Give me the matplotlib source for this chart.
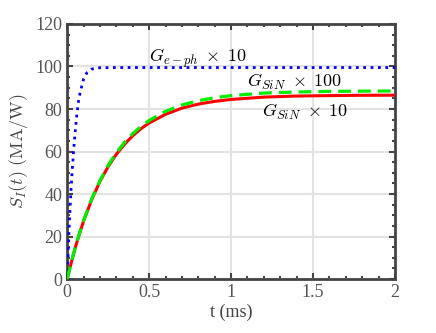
import numpy as np
import matplotlib
matplotlib.use("Agg")
import matplotlib.pyplot as plt
import matplotlib.ticker as ticker

# values (t in ms, S_I in MA/W)
t_eph = [0, 0.005, 0.01, 0.015, 0.02, 0.025, 0.03, 0.04, 0.05, 0.06, 0.07, 0.08, 0.1, 0.12, 0.15, 0.2, 0.3, 2.0]
s_eph = [0, 10, 20, 29, 37, 44, 50, 61, 70, 78, 84, 88, 94, 97, 98.8, 99.4, 99.5, 99.5]

t_sin = [0, 0.025, 0.05, 0.075, 0.1, 0.15, 0.2, 0.25, 0.3, 0.35, 0.4, 0.45, 0.5, 0.6, 0.7, 0.8, 0.9, 1.0, 1.2, 1.4, 1.6, 1.8, 2.0]
s_sin10 = [0, 7.7, 14.9, 21.3, 27.2, 37.4, 45.9, 52.9, 58.7, 63.4, 67.4, 70.7, 73.4, 77.5, 80.4, 82.3, 83.6, 84.5, 85.6, 86.1, 86.3, 86.45, 86.5]
s_sin100 = [0, 7.7, 15.0, 21.5, 27.4, 37.7, 46.3, 53.5, 59.4, 64.3, 68.4, 71.8, 74.6, 78.9, 81.9, 83.9, 85.3, 86.3, 87.5, 88.0, 88.3, 88.4, 88.5]

plt.rcParams['mathtext.fontset'] = 'cm'
plt.rcParams['font.family'] = 'Liberation Serif'

fig = plt.figure(figsize=(4.36, 3.33), dpi=100)
ax = fig.add_axes([0.154, 0.162, 0.752, 0.766])

ax.plot(t_eph, s_eph, color='blue', linestyle=':', lw=2, zorder=3)
ax.plot(t_sin, s_sin10, color='red', linestyle='-', lw=2.2, zorder=3)
ax.plot(t_sin, s_sin100, color='#00ee00', linestyle='--', lw=2.3, dashes=(4, 2.2), zorder=4)

ax.text(0.5, 102, r'$G_{e-ph}\;\times\;10$', fontsize=13, color='black')
ax.text(1.1, 90.5, r'$G_{SiN}\;\times\;100$', fontsize=13, color='black')
ax.text(1.19, 76.5, r'$G_{SiN}\;\times\;10$', fontsize=13, color='black')

ax.set_xlim(0, 2)
ax.set_ylim(0, 120)
ax.xaxis.set_major_locator(ticker.MultipleLocator(0.5))
ax.xaxis.set_minor_locator(ticker.MultipleLocator(0.1))
ax.yaxis.set_major_locator(ticker.MultipleLocator(20))
ax.yaxis.set_minor_locator(ticker.MultipleLocator(5))
ax.xaxis.set_major_formatter(ticker.FuncFormatter(lambda v, p: '%g' % v))

ax.grid(True, which='major', color='#e3e3e3', lw=1.5, zorder=0)
ax.set_axisbelow(True)
for sp in ax.spines.values():
    sp.set_color('#444444')
    sp.set_linewidth(2)
ax.tick_params(which='both', direction='in', top=True, right=True, colors='#444444',
               labelcolor='#555555', labelsize=13, width=1.5)
ax.tick_params(which='major', length=4)
ax.tick_params(which='minor', length=2.5)

ax.set_xlabel('t (ms)', fontsize=13, color='#444444', labelpad=2)
ax.set_ylabel(r'$S_I(t)\ \mathrm{(MA/W)}$', fontsize=13, color='#444444', labelpad=4)

fig.savefig('out.png', dpi=100)
